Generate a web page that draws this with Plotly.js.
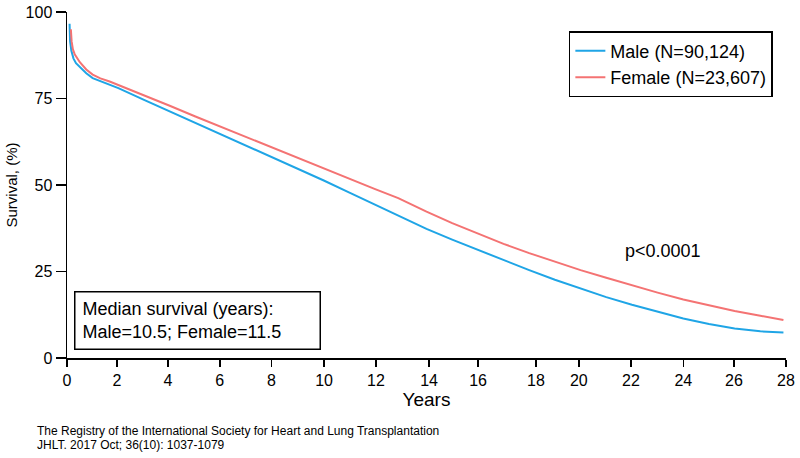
<!DOCTYPE html>
<html>
<head>
<meta charset="utf-8">
<script src="https://cdn.plot.ly/plotly-3.0.1.min.js"></script>
<style>
  html, body { margin: 0; padding: 0; background: #fff; }
  #chart { width: 800px; height: 458px; }
</style>
</head>
<body>
<div id="chart"></div>
<script>
// survival curves
const maleYears = [0.1, 0.12, 0.17, 0.25, 0.35, 0.5, 0.75, 1.0, 1.3, 1.66, 2, 3, 4, 5, 6, 7, 8, 9, 10, 11, 12, 13, 14, 15, 16, 17, 18, 19, 20, 21, 22, 23, 24, 25, 26, 27, 27.9];
const maleSurv = [96.6, 91.5, 88.8, 86.6, 85.2, 84.0, 82.3, 80.9, 80.0, 79.0, 78.0, 74.6, 71.3, 68.0, 64.7, 61.3, 57.9, 54.6, 51.3, 47.8, 44.3, 40.9, 37.3, 34.2, 31.2, 28.3, 25.4, 22.6, 20.0, 17.6, 15.4, 13.3, 11.4, 9.8, 8.5, 7.7, 7.4];

const femaleYears = [0.15, 0.18, 0.23, 0.3, 0.5, 0.75, 1.0, 1.3, 1.66, 2, 3, 4, 5, 6, 7, 8, 9, 10, 11, 12, 12.9, 14, 15, 16, 17, 18, 19, 20, 21, 22, 23, 24, 25, 26, 27, 27.9];
const femaleSurv = [95.0, 91.5, 89.2, 87.8, 85.5, 83.4, 81.9, 80.8, 79.9, 78.9, 75.9, 72.9, 69.8, 66.8, 63.8, 60.7, 57.7, 54.6, 51.7, 48.8, 46.2, 42.3, 39.0, 35.9, 33.0, 30.3, 27.8, 25.4, 23.2, 21.0, 18.9, 16.9, 15.2, 13.6, 12.2, 11.0];

// tick marks on the original are not quite evenly spaced
const xTickPos = [0, 1.95, 3.93, 5.95, 7.96, 10.01, 12.03, 14.1, 16.01, 18.26, 19.93, 21.96, 24, 25.97, 28];
const xTickText = ["0", "2", "4", "6", "8", "10", "12", "14", "16", "18", "20", "22", "24", "26", "28"];
const yTickVals = [0, 25, 50, 75, 100];

const FONT = "Liberation Sans, Arial, Helvetica, sans-serif";

const male = {
    name: "Male (N=90,124)",
    x: maleYears,
    y: maleSurv,
    mode: "lines",
    type: "scatter",
    line: { color: "#1fa5e6", width: 2 },
};

const female = {
    name: "Female (N=23,607)",
    x: femaleYears,
    y: femaleSurv,
    mode: "lines",
    type: "scatter",
    line: { color: "#f47373", width: 2 },
};

const data = [male, female];

const layout = {
    width: 800,
    height: 458,
    margin: { l: 67, r: 14, t: 12, b: 100 },
    paper_bgcolor: "#fff",
    plot_bgcolor: "#fff",
    font: { family: FONT, color: "#000", size: 16 },
    showlegend: true,
    legend: {
        x: 0.698, y: 0.945, xanchor: "left", yanchor: "top",
        bordercolor: "#000", borderwidth: 1.5,
        font: { size: 18 },
        tracegroupgap: 0,
    },
    xaxis: {
        range: [0, 28],
        tickvals: xTickPos,
        ticktext: xTickText,
        ticks: "outside", ticklen: 7, tickwidth: 1.5, tickcolor: "#000",
        showline: true, linecolor: "#000", linewidth: 1.5,
        showgrid: false, zeroline: false,
        tickfont: { size: 16 },
        title: { text: "Years", font: { size: 19 }, standoff: 5 },
    },
    yaxis: {
        range: [0, 100],
        tickvals: yTickVals,
        ticks: "outside", ticklen: 10, tickwidth: 1.5, tickcolor: "#000",
        showline: true, linecolor: "#000", linewidth: 1.5,
        showgrid: false, zeroline: false,
        tickfont: { size: 16 },
        title: { text: "Survival, (%)", font: { size: 15 }, standoff: 4 },
    },
    annotations: [
        {
            xref: "paper", yref: "paper", x: 0.0097, y: 0.0245,
            xanchor: "left", yanchor: "bottom", align: "left",
            text: "Median survival (years):<br>Male=10.5; Female=11.5",
            showarrow: false, font: { size: 18 },
            bordercolor: "#000", borderwidth: 1.5, borderpad: 7,
            width: 230, height: 42,
        },
        {
            xref: "paper", yref: "paper", x: 0.829, y: 0.308,
            xanchor: "center", yanchor: "middle",
            text: "p<0.0001", showarrow: false, font: { size: 18 },
        },
        {
            xref: "paper", yref: "paper", x: -0.0445, y: -0.211,
            xanchor: "left", yanchor: "middle",
            text: "The Registry of the International Society for Heart and Lung Transplantation",
            showarrow: false, font: { size: 12 },
        },
        {
            xref: "paper", yref: "paper", x: -0.0445, y: -0.252,
            xanchor: "left", yanchor: "middle",
            text: "JHLT. 2017 Oct; 36(10): 1037-1079",
            showarrow: false, font: { size: 12 },
        },
    ],
};

Plotly.newPlot("chart", data, layout, { displayModeBar: false, staticPlot: true });
</script>
</body>
</html>
